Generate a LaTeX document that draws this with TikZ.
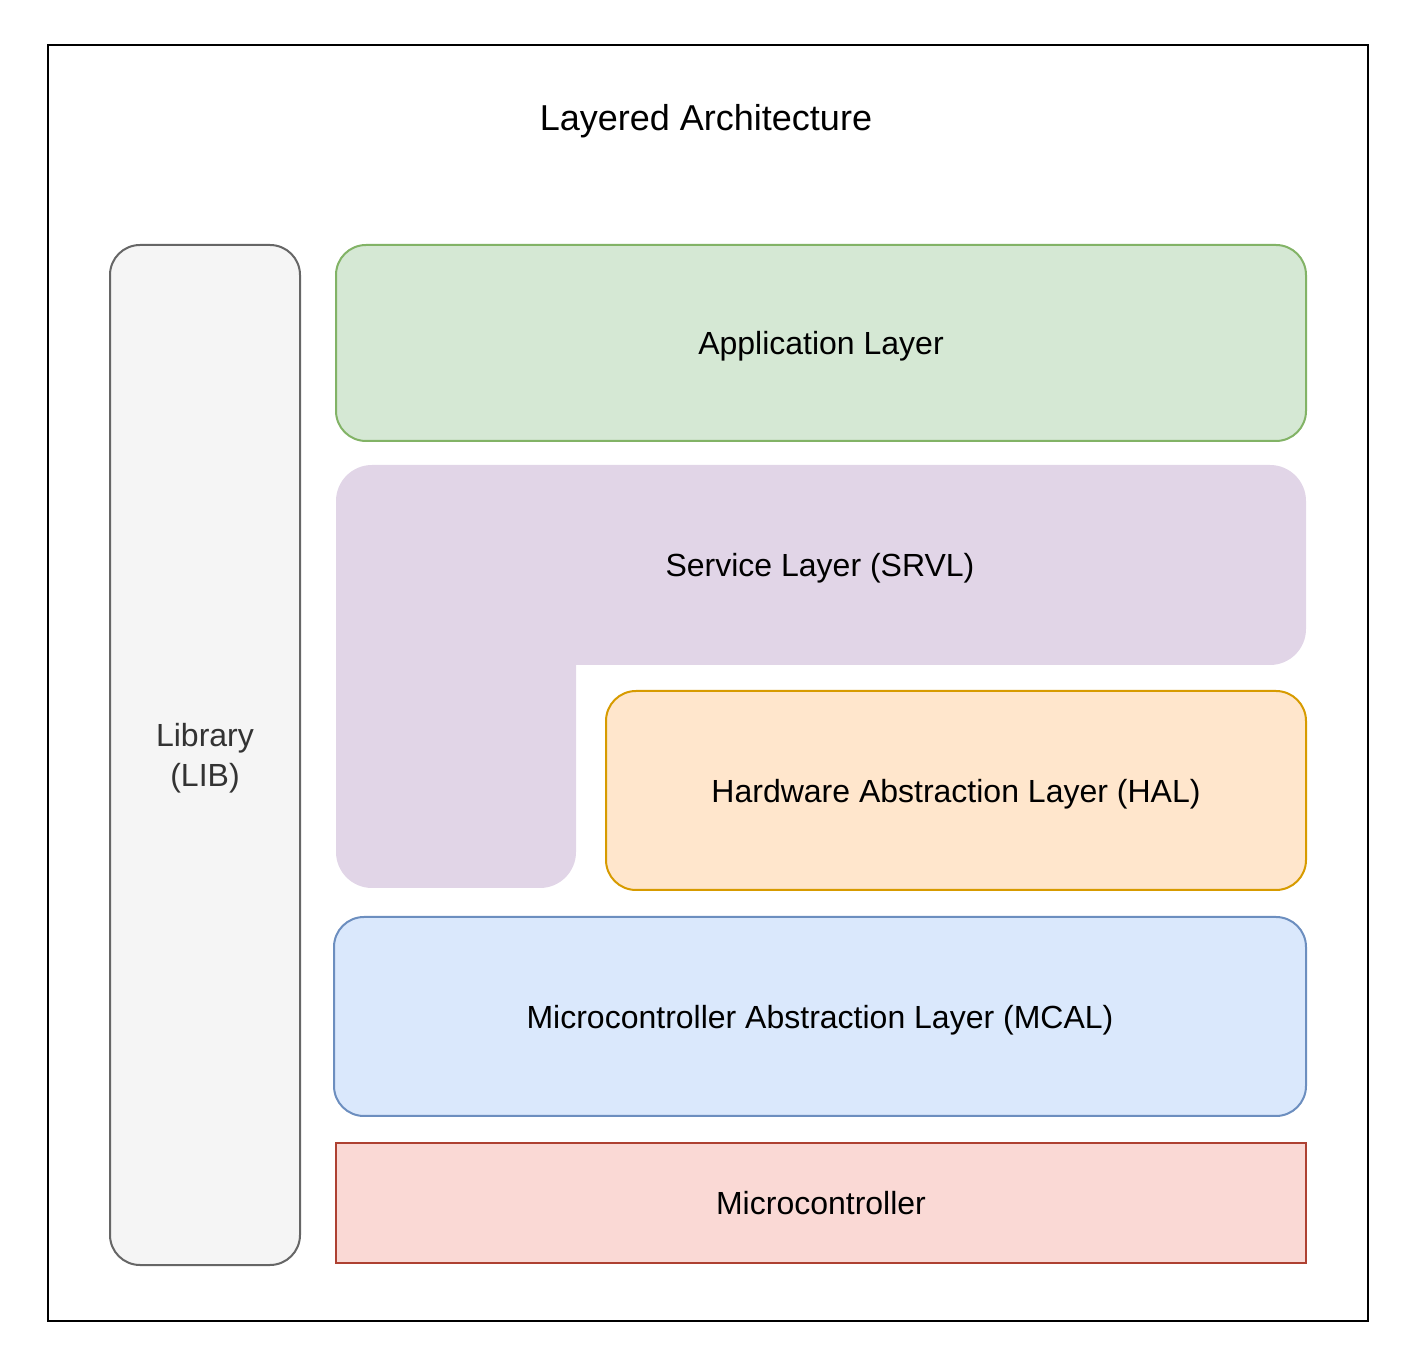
\documentclass[tikz,border=0pt]{standalone}
\usepackage{fontspec}
\setmainfont{Liberation Sans}
\definecolor{appfill}{HTML}{D5E8D4}
\definecolor{appline}{HTML}{82B366}
\definecolor{srvfill}{HTML}{E1D5E7}
\definecolor{halfill}{HTML}{FFE6CC}
\definecolor{halline}{HTML}{D79B00}
\definecolor{mcalfill}{HTML}{DAE8FC}
\definecolor{mcalline}{HTML}{6C8EBF}
\definecolor{mcufill}{HTML}{FAD9D5}
\definecolor{mculine}{HTML}{AE4132}
\definecolor{libfill}{HTML}{F5F5F5}
\definecolor{libline}{HTML}{666666}
\definecolor{libtext}{HTML}{333333}
\begin{document}
\begin{tikzpicture}[x=0.5pt, y=-0.5pt,
    layer/.style={draw, line width=1pt, rounded corners=15pt, align=center,
        font=\fontsize{16}{20}\selectfont, inner sep=0pt, text depth=0pt}]
    \useasboundingbox (0,0) rectangle (1415,1368);

    % Outer frame and title
    \draw[line width=1pt] (48,45) rectangle (1368,1321);
    \node[font=\fontsize{18}{22}\selectfont] (title) at (706,121) {Layered Architecture};

    % Library column
    \node[layer, fill=libfill, draw=libline, text=libtext,
        minimum width=95pt, minimum height=510pt] (lib) at (205,755) {Library\\(LIB)};

    % Application layer
    \node[layer, fill=appfill, draw=appline,
        minimum width=485pt, minimum height=98pt] (app) at (821,343) {Application Layer};

    % Service layer (L-shaped, no border)
    \fill[srvfill] (336,700) [rounded corners=18pt] -- (336,465) -- (1306,465)
        -- (1306,665) [sharp corners] -- (576,665) [rounded corners=18pt] -- (576,888)
        -- (336,888) -- cycle;
    \node[font=\fontsize{16}{20}\selectfont] (srvl) at (820,568) {Service Layer (SRVL)};

    % Hardware abstraction layer
    \node[layer, fill=halfill, draw=halline,
        minimum width=350pt, minimum height=99.5pt] (hal) at (956,790.5)
        {Hardware Abstraction Layer (HAL)};

    % Microcontroller abstraction layer
    \node[layer, fill=mcalfill, draw=mcalline,
        minimum width=486pt, minimum height=99.5pt] (mcal) at (820,1016.5)
        {Microcontroller Abstraction Layer (MCAL)};

    % Microcontroller
    \node[layer, sharp corners, fill=mcufill, draw=mculine,
        minimum width=485pt, minimum height=60pt] (mcu) at (821,1203) {Microcontroller};
\end{tikzpicture}
\end{document}
